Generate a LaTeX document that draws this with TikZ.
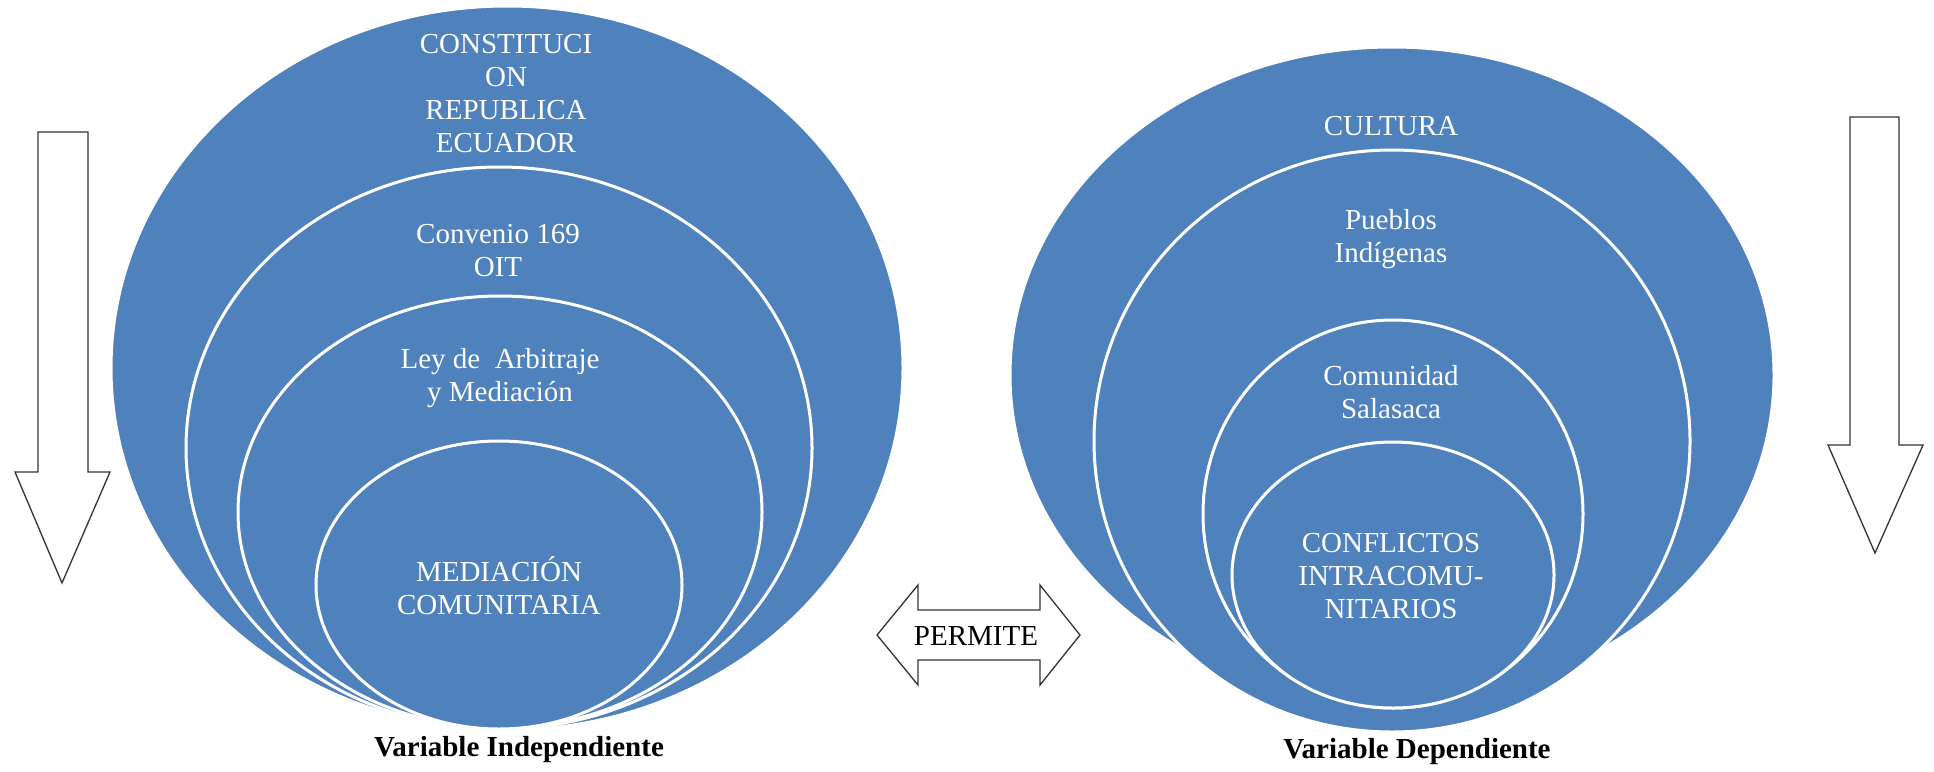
\documentclass[tikz,border=0pt]{standalone}
\usepackage{fontspec}
\setmainfont{Liberation Serif}
\usetikzlibrary{shapes.geometric}
\definecolor{vblue}{RGB}{79,129,189}
\begin{document}
\begin{tikzpicture}[x=1pt,y=-1pt,
  ring/.style={ellipse, draw=white, line width=3pt, fill=vblue, inner sep=0pt, outer sep=0pt},
  lbl/.style={text=white, align=center, inner sep=0pt, font=\fontsize{29}{33}\selectfont},
  captxt/.style={text=black, inner sep=0pt, font=\bfseries\fontsize{29}{33}\selectfont},
  arr/.style={draw=black!80, line width=1.3pt, fill=white, line join=miter}]
\useasboundingbox (0,0) rectangle (1934,771);
% left group
\node[ring, minimum width=792pt, minimum height=724pt] (L1) at (507,368) {};
\node[ring, minimum width=626pt, minimum height=562pt] (L2) at (499,448) {};
\node[ring, minimum width=524pt, minimum height=432pt] (L3) at (500,512) {};
\node[ring, minimum width=366pt, minimum height=288pt] (L4) at (499,585) {};
\node[lbl] (tL1) at (506,94) {CONSTITUCI\\ON\\REPUBLICA\\ECUADOR};
\node[lbl] (tL2) at (498,251) {Convenio 169\\OIT};
\node[lbl] (tL3) at (500,378) {Ley de\ \ Arbitraje\\y Mediación};
\node[lbl] (tL4) at (499,586) {MEDIACIÓN\\COMUNITARIA};
% right group
\node[ring, minimum width=764pt, minimum height=656pt] (R1) at (1392,375) {};
\node[ring, minimum width=596pt, minimum height=582pt] (R2) at (1392,441) {};
\node[ring, minimum width=380pt, minimum height=388pt] (R3) at (1393,514) {};
\node[ring, minimum width=322pt, minimum height=266pt] (R4) at (1393,575) {};
\node[lbl] (tR1) at (1391,126) {CULTURA};
\node[lbl] (tR2) at (1391,239) {Pueblos\\Indígenas};
\node[lbl] (tR3) at (1391,392) {Comunidad\\Salasaca};
\node[lbl] (tR4) at (1391,576) {CONFLICTOS\\INTRACOMU-\\NITARIOS};
% captions
\node[captxt] (cL) at (519,750) {Variable Independiente};
\node[captxt] (cR) at (1417,752) {Variable Dependiente};
% down arrows
\draw[arr] (38,132) -- (88,132) -- (88,472) -- (110,472) -- (62,583) -- (15,472) -- (38,472) -- cycle;
\draw[arr] (1850,117) -- (1899,117) -- (1899,445) -- (1923,445) -- (1875,553) -- (1828,445) -- (1850,445) -- cycle;
% double arrow
\draw[arr] (877,635) -- (918,585) -- (918,610) -- (1040,610) -- (1040,585) -- (1080,635) -- (1040,685) -- (1040,660) -- (918,660) -- (918,685) -- cycle;
\node[text=black, inner sep=0pt, font=\fontsize{29}{33}\selectfont] (perm) at (976,636) {PERMITE};
\end{tikzpicture}
\end{document}
